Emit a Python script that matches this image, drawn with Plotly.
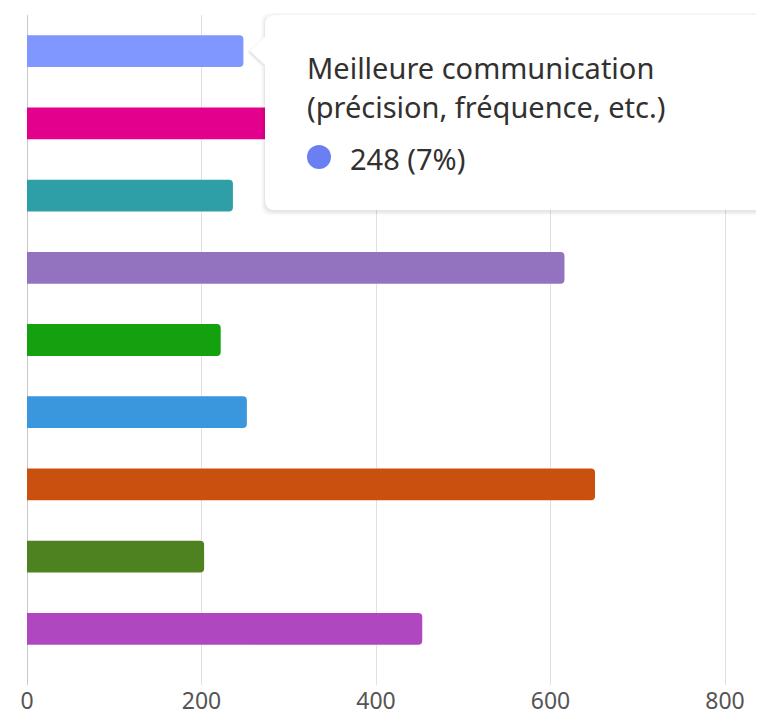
import plotly.graph_objects as go

categories = [
    "Meilleure communication (précision, fréquence, etc.)",
    "Option 2", "Option 3", "Option 4", "Option 5",
    "Option 6", "Option 7", "Option 8", "Option 9",
]
values = [248, 480, 236, 616, 222, 252, 651, 203, 453]
colors = ["#8097FF", "#E3008C", "#2E9FA6", "#9373C0", "#13A10E",
          "#3A96DD", "#CA5010", "#4E8220", "#AF47C0"]
tick_vals = [0, 200, 400, 600, 800]

# page has an 8px body margin; figure sized to fit the window
OFF = 8
W, H = 764 - OFF, 720 - OFF
L, R, T, B = 27 - OFF, 0, 15 - OFF, 35
PW, PH = W - L - R, H - T - B

def px(x):  # page pixel -> paper
    return (x - OFF - L) / PW

def py(y):
    return (H - B - (y - OFF)) / PH

fig = go.Figure(go.Bar(
    x=values, y=categories, orientation="h",
    marker=dict(color=colors, line=dict(width=0)),
    width=0.44, hoverinfo="skip",
))

def tooltip_path(dx=0, dy=0, grow=0):
    x0, x1 = 265 - grow + dx, 763 + grow + dx
    y0, y1 = 15 - grow + dy, 210 + grow + dy
    r = 10
    ax, ay = 250 - grow + dx, 51 + dy
    pts = [
        f"M{px(x0 + r)},{py(y0)}",
        f"L{px(x1 - r)},{py(y0)}",
        f"Q{px(x1)},{py(y0)} {px(x1)},{py(y0 + r)}",
        f"L{px(x1)},{py(y1 - r)}",
        f"Q{px(x1)},{py(y1)} {px(x1 - r)},{py(y1)}",
        f"L{px(x0 + r)},{py(y1)}",
        f"Q{px(x0)},{py(y1)} {px(x0)},{py(y1 - r)}",
        f"L{px(x0)},{py(ay + 14)}",
        f"L{px(ax)},{py(ay)}",
        f"L{px(x0)},{py(ay - 14)}",
        f"L{px(x0)},{py(y0 + r)}",
        f"Q{px(x0)},{py(y0)} {px(x0 + r)},{py(y0)}",
        "Z",
    ]
    return " ".join(pts)

shapes = []
for g, a in [(4, 0.02), (2.5, 0.03), (1, 0.045)]:
    shapes.append(dict(type="path", xref="paper", yref="paper",
                       path=tooltip_path(0, 1.5, g),
                       fillcolor=f"rgba(0,0,0,{a})", line=dict(width=0), layer="above"))
shapes.append(dict(type="path", xref="paper", yref="paper", path=tooltip_path(),
                   fillcolor="white", line=dict(width=0), layer="above"))
shapes.append(dict(type="circle", xref="paper", yref="paper",
                   x0=px(307), x1=px(331), y0=py(145), y1=py(169),
                   fillcolor="#6A80F2", line=dict(width=0), layer="above"))

font_family = "Noto Sans, Open Sans, sans-serif"
annotations = [
    dict(text="Meilleure communication", x=px(305), y=py(68), xref="paper", yref="paper",
         xanchor="left", yanchor="middle", showarrow=False,
         font=dict(size=29, color="#323130", family=font_family)),
    dict(text="(précision, fréquence, etc.)", x=px(305), y=py(107), xref="paper", yref="paper",
         xanchor="left", yanchor="middle", showarrow=False,
         font=dict(size=29, color="#323130", family=font_family)),
    dict(text="248 (7%)", x=px(348), y=py(158), xref="paper", yref="paper",
         xanchor="left", yanchor="middle", showarrow=False,
         font=dict(size=29, color="#323130", family=font_family)),
]

fig.update_layout(
    width=W, height=H,
    margin=dict(l=L, r=R, t=T, b=B, pad=0, autoexpand=False),
    plot_bgcolor="white", paper_bgcolor="white",
    barcornerradius=4,
    showlegend=False,
    shapes=shapes, annotations=annotations,
    font=dict(family=font_family, color="#505050"),
    xaxis=dict(range=[0, PW / 0.8725], tickvals=tick_vals, automargin=False,
               showgrid=True, gridcolor="#E1E1E1", gridwidth=1,
               zeroline=True, zerolinecolor="#C8C8C8", zerolinewidth=1,
               ticks="", tickfont=dict(size=23, color="#555555"),
               showline=False, fixedrange=True),
    yaxis=dict(categoryorder="array", categoryarray=categories, automargin=False,
               range=[8.5 + 20 / 72.3, -0.5],
               showticklabels=False, showgrid=False, zeroline=False,
               showline=False, ticks=""),
)

fig.write_html("out.html")
